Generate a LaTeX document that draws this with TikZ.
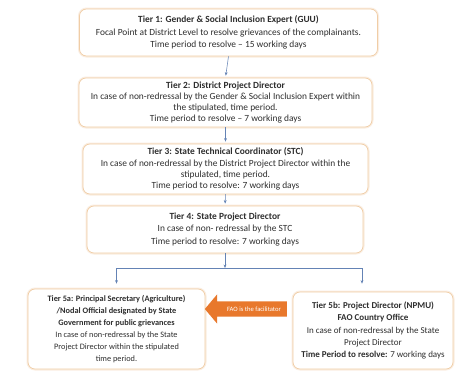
\documentclass[tikz,border=0pt]{standalone}
\usepackage{fontspec}
\setmainfont{Carlito}
\usetikzlibrary{shapes.arrows,arrows.meta}
\definecolor{boxline}{HTML}{F0CDA6}
\definecolor{boxglow}{HTML}{FAEDE0}
\definecolor{flowline}{HTML}{6483B5}
\definecolor{txt}{HTML}{2E2E2E}
\definecolor{fao}{HTML}{E8782C}
\begin{document}
\begin{tikzpicture}[x=1pt,y=-1pt,
  tierbox/.style={draw=boxline, line width=0.7pt, rounded corners=7pt, fill=white,
    align=center, inner sep=1pt, text=txt,
    font=\fontsize{9.4}{11.3}\selectfont,
    preaction={draw=boxglow, line width=3pt}},
  flow/.style={draw=flowline, line width=0.55pt},
  flowarrow/.style={flow, -{Stealth[length=3.5pt,width=2.8pt]}, shorten >=2pt}
]
\useasboundingbox (0,0) rectangle (455,370);
\fill[white] (0,0) rectangle (455,370);

% tier boxes
\node[tierbox, minimum width=298pt, minimum height=47pt,
  font=\fontsize{9.4}{12.3}\selectfont] (t1) at (228.5,32.5)
  {\textbf{Tier 1: Gender \& Social Inclusion Expert (GUU)}\\
   Focal Point at District Level to resolve grievances of the complainants.\\
   Time period to resolve – 15 working days};

\node[tierbox, minimum width=293pt, minimum height=49pt] (t2) at (225.5,102.5)
  {\textbf{Tier 2: District Project Director}\\
   In case of non-redressal by the Gender \& Social Inclusion Expert within\\
   the stipulated, time period.\\
   Time period to resolve – 7 working days};

\node[tierbox, minimum width=285pt, minimum height=50pt] (t3) at (225.5,169)
  {\textbf{Tier 3: State Technical Coordinator (STC)}\\
   In case of non-redressal by the District Project Director within the\\
   stipulated, time period.\\
   Time period to resolve: 7 working days};

\node[tierbox, minimum width=276pt, minimum height=47pt,
  font=\fontsize{9.4}{12.3}\selectfont] (t4) at (225,229.5)
  {\textbf{Tier 4: State Project Director}\\
   In case of non- redressal by the STC\\
   Time period to resolve: 7 working days};

\node[tierbox, minimum width=177pt, minimum height=80pt,
  font=\fontsize{8.3}{12}\selectfont] (t5a) at (116.5,329)
  {\textbf{Tier 5a: Principal Secretary (Agriculture)}\\
   \textbf{/Nodal Official designated by State}\\
   \textbf{Government for public grievances}\\
   In case of non-redressal by the State\\
   Project Director within the stipulated\\
   time period.};

\node[tierbox, minimum width=160pt, minimum height=77pt,
  font=\fontsize{9}{12.3}\selectfont] (t5b) at (373,330.5)
  {\textbf{Tier 5b: Project Director (NPMU)}\\
   \textbf{FAO Country Office}\\
   In case of non-redressal by the State\\
   Project Director\\
   \textbf{Time Period to resolve:} 7 working days};

% facilitator arrow
\node[single arrow, shape border rotate=180, fill=fao, draw=none,
  minimum height=82pt, single arrow head extend=7pt,
  single arrow tip angle=100, inner xsep=1pt, inner ysep=5pt,
  text=white, font=\fontsize{6.6}{7}\selectfont] (fao) at (249,309)
  {\hspace*{10pt}FAO is the facilitator};

% connectors
\draw[flowarrow] (t1.south) -- (t2.north);
\draw[flowarrow] (t2.south) -- (t3.north);
\draw[flowarrow] (t3.south) -- (t4.north);
\coordinate (jc) at (225,268);
\coordinate (jl) at (t5a.north |- jc);
\coordinate (jr) at (362,268);
\draw[flowarrow, shorten >=0pt] (t4.south) -- (jc);
\draw[flow] (jl) -- (jr);
\draw[flowarrow, shorten >=5pt] (jl) -- (t5a.north);
\draw[flowarrow, shorten >=8pt] (jr) -- (jr |- t5b.north);
\end{tikzpicture}
\end{document}
